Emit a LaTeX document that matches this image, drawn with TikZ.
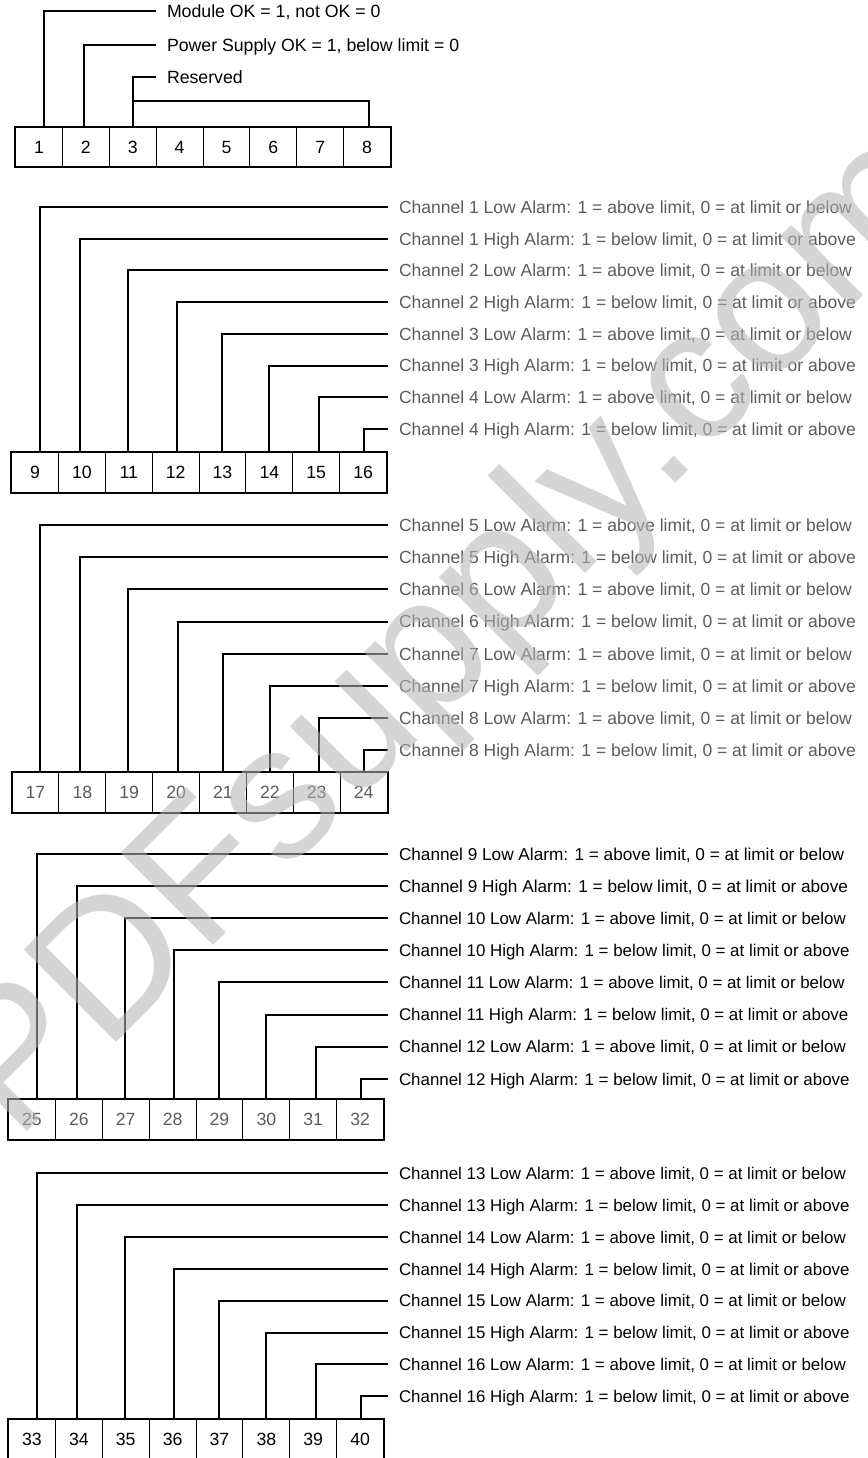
\documentclass[tikz,border=0pt]{standalone}
\usepackage{fontspec}
\setmainfont{Liberation Sans}
\newcommand\lblfont{\fontsize{17.7}{20}\selectfont}
\definecolor{txtgrey}{gray}{0.36}
\definecolor{wmgrey}{gray}{0.71}
\tikzset{
  cell/.style={draw, line width=1.1pt, minimum width=46.875pt, minimum height=39.5pt,
    inner sep=0pt, font=\lblfont, anchor=north west},
  lbl/.style={anchor=west, inner sep=0pt, outer xsep=11pt, text height=12.6pt,
    text depth=0pt, font=\lblfont},
  wire/.style={line width=2pt},
  frame/.style={line width=1.8pt},
}
\begin{document}
\begin{tikzpicture}[x=1pt,y=-1pt]
\useasboundingbox (0,0) rectangle (867,1458);
\fill[white] (0,0) rectangle (867,1458);

% ---------- block 1 ----------
\foreach \i in {0,...,7}{
  \pgfmathtruncatemacro\n{\i+1}
  \node[cell] (c\n) at (15+\i*46.875,127) {\n};
}
\draw[frame] (c1.north west) rectangle (c8.south east);
\node[lbl] (L1) at (156,11) {Module OK = 1, not OK = 0};
\node[lbl] (L2) at (156,45) {Power Supply OK = 1, below limit = 0};
\node[lbl] (L3) at (156,77) {Reserved};
\draw[wire] ([xshift=4.6pt]c1.north) |- (L1.west);
\draw[wire] ([xshift=-2.3pt]c2.north) |- (L2.west);
\draw[wire] (c3.north) |- (L3.west);
\coordinate (j3) at (132.2,101);
\draw[wire] ([xshift=1.4pt]c8.north) |- (j3);

% ---------- blocks 2..5 ----------
\foreach \b/\top/\xz/\ly/\dy/\tc/\nc in {
  2/452/11/207/31.7/txtgrey/black,
  3/772/11.5/525/32.2/txtgrey/txtgrey,
  4/1099/8/854/32.1/black/txtgrey,
  5/1419/8/1173/31.9/black/black}{
  \foreach \i in {0,...,7}{
    \pgfmathtruncatemacro\n{8*(\b-1)+\i+1}
    \node[cell, text=\nc] (c\n) at (\xz+\i*46.875,\top) {\n};
  }
  \pgfmathtruncatemacro\first{8*(\b-1)+1}
  \pgfmathtruncatemacro\last{8*\b}
  \draw[frame] (c\first.north west) rectangle (c\last.south east);
  \foreach \i/\off in {0/4.6,1/-2.3,2/-1.2,3/1.5,4/0,5/0,6/2.6,7/0.4}{
    \pgfmathtruncatemacro\n{8*(\b-1)+\i+1}
    \pgfmathtruncatemacro\ch{4*(\b-2)+int(\i/2)+1}
    \pgfmathtruncatemacro\odd{mod(\i,2)}
    \ifnum\ch>9 \def\fs{16.9}\else\ifnum\ch=9 \def\fs{17.2}\else\def\fs{17.5}\fi\fi
    \ifnum\odd=0
      \node[lbl, text=\tc, font=\fontsize{\fs}{20}\selectfont] (L\n) at (388,\ly+\i*\dy)
        {Channel \ch{} Low Alarm: 1 = above limit, 0 = at limit or below};
    \else
      \node[lbl, text=\tc, font=\fontsize{\fs}{20}\selectfont] (L\n) at (388,\ly+\i*\dy)
        {Channel \ch{} High Alarm: 1 = below limit, 0 = at limit or above};
    \fi
    \draw[wire] ([xshift=\off pt]c\n.north) |- (L\n.west);
  }
}

% ---------- watermark ----------
\node[rotate=45, anchor=base west, inner sep=0pt, text=wmgrey, text opacity=0.56,
  font=\fontsize{190}{190}\selectfont] (wm) at (16,1143) {PDFsupply.com};
\end{tikzpicture}
\end{document}
